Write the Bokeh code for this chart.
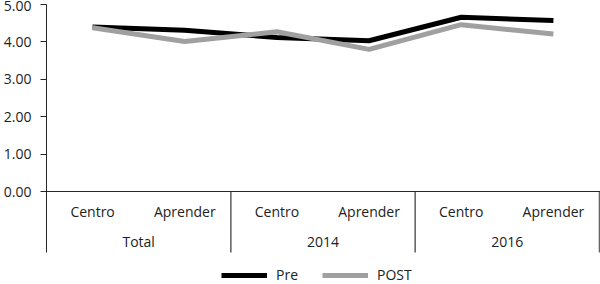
from bokeh.plotting import figure
from bokeh.models import (Range1d, FixedTicker, NumeralTickFormatter, Span,
                          Legend, LegendItem, ColumnDataSource)
from bokeh.core.properties import value
from bokeh.embed import file_html
from bokeh.resources import INLINE

groups = ["Total", "2014", "2016"]
subcats = ["Centro", "Aprender"]
pre = [4.40, 4.31, 4.12, 4.03, 4.66, 4.57]
post = [4.38, 4.01, 4.27, 3.80, 4.46, 4.21]
y_ticks = [0, 1, 2, 3, 4, 5]

FONT = "Open Sans"
n_sub = len(subcats)
n = len(groups) * n_sub
xs = [i + 0.5 for i in range(n)]
labels = [subcats[i % n_sub] for i in range(n)]
group_x = [g * n_sub + n_sub / 2 for g in range(len(groups))]
bounds_x = [g * n_sub for g in range(len(groups) + 1)]

ymax = 5.0
px_per_unit = 187.0 / ymax
y_bottom = -(284 - 191) / px_per_unit
div_bottom = -(252 - 191) / px_per_unit

p = figure(width=600, height=284, output_backend="svg", toolbar_location=None,
           x_range=Range1d(0, n * 557 / 556), y_range=Range1d(y_bottom, ymax),
           x_axis_location=None, min_border_left=43, min_border_right=0,
           min_border_top=4, min_border_bottom=0)
p.outline_line_color = None
p.xgrid.visible = False
p.ygrid.visible = False
p.background_fill_color = "white"
p.border_fill_color = "white"

ax = p.yaxis[0]
ax.ticker = FixedTicker(ticks=y_ticks)
ax.formatter = NumeralTickFormatter(format="0.00")
ax.bounds = (div_bottom, ymax)
ax.axis_line_color = "#262626"
ax.axis_line_width = 1
ax.major_tick_line_color = "#262626"
ax.major_tick_out = 6
ax.major_tick_in = 0
ax.minor_tick_line_color = None
ax.major_label_standoff = 9
ax.major_label_text_font = FONT
ax.major_label_text_font_size = "14px"
ax.major_label_text_color = "#222222"

# category axis line and group dividers
p.add_layout(Span(location=0, dimension="width", line_color="#262626", line_width=1))
p.segment(x0=bounds_x[1:], y0=[0] * (len(bounds_x) - 1), x1=bounds_x[1:],
          y1=[div_bottom] * (len(bounds_x) - 1), line_color="#666666", line_width=1.6)

# category labels
p.text(x=xs, y=[0] * n, text=labels, y_offset=20, text_align="center",
       text_baseline="middle", text_font=value(FONT), text_font_size="14px",
       text_color="#222222")
p.text(x=group_x, y=[0] * len(groups), text=groups, y_offset=50, text_align="center",
       text_baseline="middle", text_font=value(FONT), text_font_size="14px",
       text_color="#222222")

src = ColumnDataSource(dict(x=xs, pre=pre, post=post))
r_pre = p.line("x", "pre", source=src, line_color="black", line_width=5)
r_post = p.line("x", "post", source=src, line_color="#a0a0a0", line_width=5)

legend = Legend(items=[LegendItem(label="Pre", renderers=[r_pre]),
                       LegendItem(label="POST", renderers=[r_post])],
                orientation="horizontal", location=(175, 0),
                glyph_width=46, glyph_height=14, label_height=14,
                label_standoff=9, spacing=24, padding=0, margin=0,
                label_text_font=FONT, label_text_font_size="14px",
                label_text_color="#222222",
                border_line_color=None, background_fill_alpha=0)
p.add_layout(legend, "center")

open("out.html", "w").write(file_html(p, INLINE))
